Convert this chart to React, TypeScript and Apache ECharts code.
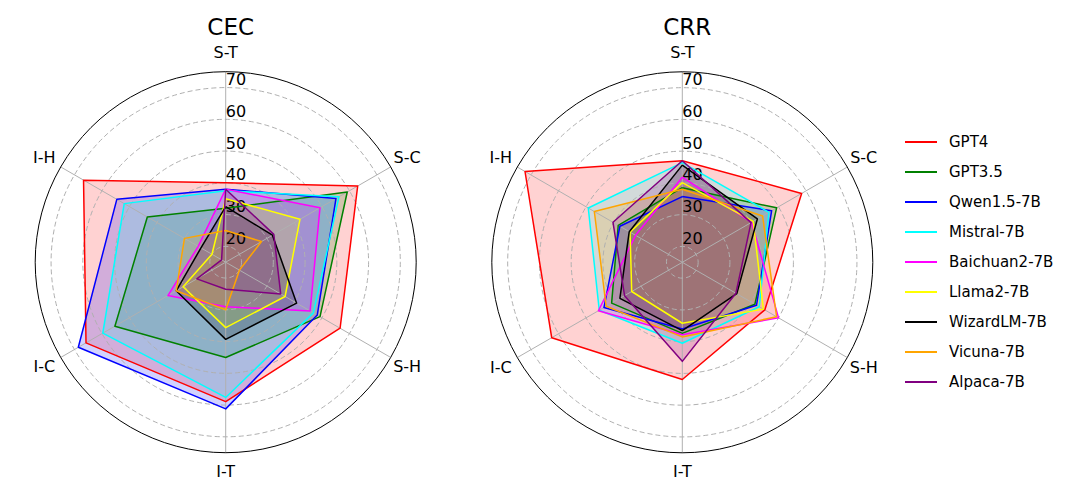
import React, { useEffect, useRef } from 'react';
import * as echarts from 'echarts';

// Axis categories in clockwise order starting from the top
const categories = ['S-T', 'S-C', 'S-H', 'I-T', 'I-C', 'I-H'];
const models = ['GPT4', 'GPT3.5', 'Qwen1.5-7B', 'Mistral-7B', 'Baichuan2-7B', 'Llama2-7B', 'WizardLM-7B', 'Vicuna-7B', 'Alpaca-7B'];
const colors = ['#ff0000', '#008000', '#0000ff', '#00ffff', '#ff00ff', '#ffff00', '#000000', '#ffa500', '#800080'];
const chartTitles = ['CEC', 'CRR'];
const radialTicks = [20, 30, 40, 50, 60, 70];
const radialMin = 15;
const radialMax = 75;

// CEC scores (S-T, S-C, S-H, I-T, I-C, I-H)
const cecGPT4 = [40, 63, 56.6, 58.9, 65.8, 66.7];
const cecGPT35 = [32, 59.2, 49.3, 45, 55.3, 43.5];
const cecQwen = [38, 55.1, 48.3, 61.2, 68.6, 54.6];
const cecMistral = [37.5, 56.2, 46.9, 57.6, 59.7, 51.9];
const cecBaichuan = [38, 49.3, 45.7, 29, 36, 25];
const cecLlama = [35, 42, 36.6, 35.6, 30.5, 20];
const cecWizard = [32.5, 32, 40.8, 39.3, 33, 24];
const cecVicuna = [25, 28, 20, 30, 33, 30];
const cecAlpaca = [38, 32.5, 35, 23.5, 25.5, 16.5];

// CRR scores (S-T, S-C, S-H, I-T, I-C, I-H)
const crrGPT4 = [47, 58.4, 45, 51.9, 62.5, 72.2];
const crrGPT35 = [38.5, 49.3, 41.4, 37.4, 40.7, 38.3];
const crrQwen = [35.7, 47.5, 42, 36, 43.5, 37.7];
const crrMistral = [46.4, 46.5, 43, 40.5, 45.2, 49.2];
const crrBaichuan = [41.8, 40.2, 50, 37.8, 45.5, 32];
const crrLlama = [40.1, 40.8, 44.5, 34.2, 33.4, 34];
const crrWizard = [45.6, 42.3, 34.8, 36.5, 37.7, 34.3];
const crrVicuna = [38, 44.2, 49.3, 38.5, 42.7, 47];
const crrAlpaca = [47, 40, 34.5, 46.2, 36, 40.2];

const cecData = [cecGPT4, cecGPT35, cecQwen, cecMistral, cecBaichuan, cecLlama, cecWizard, cecVicuna, cecAlpaca];
const crrData = [crrGPT4, crrGPT35, crrQwen, crrMistral, crrBaichuan, crrLlama, crrWizard, crrVicuna, crrAlpaca];
const allData = [cecData, crrData];

const FONT = 'DejaVu Sans';
const centers = [[225.7, 262.2], [682.3, 262.3]];
const R = 190.5;
// radar places indicators counter-clockwise; map clockwise categories to that order
const ccwOrder = [0, 5, 4, 3, 2, 1];

function hexToRgba(hex: string, a: number) {
  const n = parseInt(hex.slice(1), 16);
  return `rgba(${(n >> 16) & 255},${(n >> 8) & 255},${n & 255},${a})`;
}

export default function App() {
  const ref = useRef<HTMLDivElement>(null);
  useEffect(() => {
    if (!ref.current) return;
    const chart = echarts.init(ref.current, null, { renderer: 'svg' });

    const radar = centers.map((c) => ({
      center: c,
      radius: R,
      startAngle: 90,
      shape: 'circle',
      splitNumber: 6,
      indicator: ccwOrder.map((i) => ({ name: categories[i], min: radialMin, max: radialMax })),
      nameGap: 19,
      axisName: { color: '#000', fontSize: 16, fontFamily: FONT, align: 'center', verticalAlign: 'middle' },
      axisLine: { show: false },
      splitLine: { show: false },
      splitArea: { show: false },
      axisTick: { show: false },
      axisLabel: { show: false },
    }));

    const polar = centers.map((c) => ({ center: c, radius: R }));
    const angleAxis = centers.map((_, k) => ({
      polarIndex: k,
      type: 'value',
      min: 0,
      max: 360,
      interval: 60,
      startAngle: 90,
      clockwise: true,
      z: 3,
      axisLine: { show: true, lineStyle: { color: '#000', width: 1 } },
      axisTick: { show: false },
      axisLabel: { show: false },
      splitLine: { show: true, lineStyle: { color: '#b0b0b0', width: 1 } },
    }));
    const radiusAxis = centers.map((_, k) => ({
      polarIndex: k,
      type: 'value',
      min: radialMin,
      max: radialMax,
      splitNumber: 6,
      z: 3,
      axisLine: { show: false },
      axisTick: { show: false },
      axisLabel: {
        show: true,
        color: '#000',
        fontSize: 16,
        fontFamily: FONT,
        align: 'left',
        verticalAlign: 'bottom',
        margin: 0,
        formatter: (v: number) => (radialTicks.indexOf(v) >= 0 ? String(v) : ''),
      },
      splitLine: {
        show: true,
        lineStyle: {
          color: ['rgba(0,0,0,0)', '#b0b0b0', '#b0b0b0', '#b0b0b0', '#b0b0b0', '#b0b0b0', '#b0b0b0', 'rgba(0,0,0,0)'],
          type: [5, 3],
          width: 1,
        },
      },
    }));

    const series: any[] = [];
    allData.forEach((chartData, k) => {
      chartData.forEach((vals, m) => {
        const ordered = ccwOrder.map((i) => vals[i]);
        series.push({
          type: 'radar',
          radarIndex: k,
          name: models[m],
          symbol: 'none',
          silent: true,
          z: 2,
          itemStyle: { color: colors[m] },
          lineStyle: { width: 0, opacity: 0 },
          areaStyle: { color: hexToRgba(colors[m], 0.25) },
          data: [{ value: ordered, name: models[m] }],
        });
      });
      chartData.forEach((vals, m) => {
        const ordered = ccwOrder.map((i) => vals[i]);
        series.push({
          type: 'radar',
          radarIndex: k,
          name: models[m],
          symbol: 'none',
          silent: true,
          z: 4,
          itemStyle: { color: colors[m] },
          lineStyle: { width: 1.5, color: colors[m] },
          data: [{ value: ordered, name: models[m] }],
        });
      });
    });

    chart.setOption({
      animation: false,
      backgroundColor: '#fff',
      title: chartTitles.map((t, k) => ({
        text: t,
        left: centers[k][0],
        top: 10,
        textAlign: 'center',
        textStyle: { fontSize: 23, fontWeight: 'normal', color: '#000', fontFamily: FONT },
      })),
      legend: {
        orient: 'vertical',
        left: 905,
        top: 132,
        padding: 0,
        icon: 'rect',
        itemWidth: 32,
        itemHeight: 2,
        itemGap: 10,
        selectedMode: false,
        data: models.map((m, i) => ({ name: m, itemStyle: { color: colors[i] } })),
        textStyle: { fontSize: 15, fontFamily: FONT, color: '#000', lineHeight: 20, padding: [0, 0, 0, 7] },
      },
      radar,
      polar,
      angleAxis,
      radiusAxis,
      series,
    });
    return () => chart.dispose();
  }, []);
  return <div ref={ref} style={{ position: 'absolute', left: 0, top: 0, width: 1080, height: 500 }} />;
}
